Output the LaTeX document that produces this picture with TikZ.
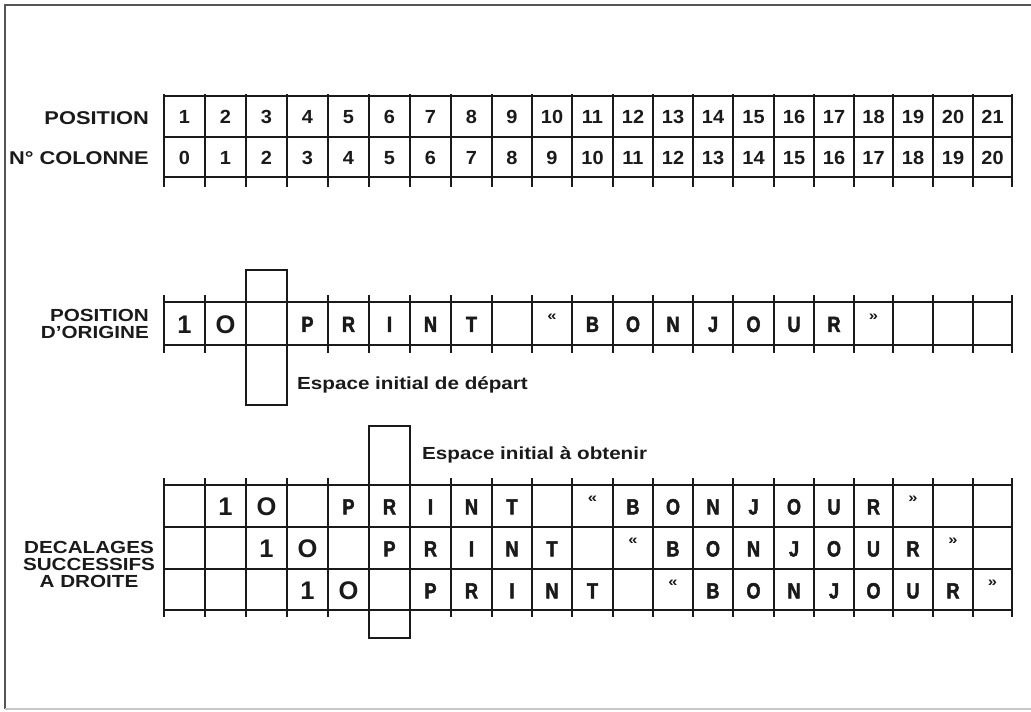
\documentclass[tikz,border=0pt]{standalone}
\usepackage{fontspec}
\setmainfont{Liberation Sans}
\newfontfamily\labfont[FakeStretch=1.18]{Liberation Sans}
\newfontfamily\numfont[FakeStretch=1.05]{Liberation Sans}
\newfontfamily\condfont[FakeStretch=0.82,FakeBold=2.2]{Liberation Sans}
\definecolor{ink}{HTML}{1A1A1A}
\definecolor{framec}{HTML}{555555}
\def\bounds{164,205,246,287,328,369,410,451,492,532,572,613,653,693,733,774,814,854,893,933,973,1012}
\def\centers{184.5,225.5,266.5,307.5,348.5,389.5,430.5,471.5,512,552,592.5,633,673,713,753.5,794,834,873.5,913,953,992.5}
\begin{document}
\begin{tikzpicture}[x=1pt,y=-1pt,
  grid/.style={draw=ink,line width=1.8pt},
  frame/.style={draw=framec,line width=2pt},
  lab/.style={font=\labfont\bfseries\fontsize{17.5}{17}\selectfont,text=ink,inner sep=0pt},
  biglab/.style={font=\labfont\bfseries\fontsize{18.5}{18}\selectfont,text=ink,inner sep=0pt},
  tnum/.style={font=\numfont\bfseries\fontsize{19}{20}\selectfont,text=ink,inner sep=0pt,text height=13.6pt,text depth=0pt},
  dig/.style={font=\bfseries\fontsize{25.5}{28}\selectfont,text=ink,inner sep=0pt,text height=18.3pt,text depth=0pt},
  chr/.style={font=\condfont\bfseries\fontsize{22}{24}\selectfont,text=ink,inner sep=0pt,text height=15.8pt,text depth=0pt},
  quo/.style={font=\labfont\bfseries\fontsize{14}{15}\selectfont,text=ink,inner sep=0pt,yshift=7pt},
]
\useasboundingbox (0,0) rectangle (1031,712);
\fill[white] (0,0) rectangle (1031,712);
% frame
\draw[frame] (1045,5) -- (5,5) -- (5,709);
\draw[draw=gray!45,line width=1.5pt] (5,709) -- (1045,709);

% coordinates
\foreach \x [count=\i] in \centers { \coordinate (c\i) at (\x,0); }
\coordinate (r1) at (0,117);
\coordinate (r2) at (0,157.5);
\coordinate (r3) at (0,324);
\coordinate (r4) at (0,506.5);
\coordinate (r5) at (0,548.5);
\coordinate (r6) at (0,590.5);

% table 1
\foreach \y in {96,137,177} { \draw[grid] (164,\y) -- (1012,\y); }
\foreach \x in \bounds { \draw[grid] (\x,94) -- (\x,187); }
\foreach \i in {1,...,21} {
  \pgfmathtruncatemacro\j{\i-1}
  \node[tnum] (pos\i) at (c\i |- r1) {\i};
  \node[tnum] (col\i) at (c\i |- r2) {\j};
}
\node[biglab,anchor=east] (lpos) at (149,118) {POSITION};
\node[biglab,anchor=east] (lcol) at (149,158) {N° COLONNE};

% table 2
\foreach \y in {302,345} { \draw[grid] (164,\y) -- (1012,\y); }
\foreach \x in \bounds { \draw[grid] (\x,295) -- (\x,353); }
\draw[grid] (246,270) rectangle (287,405);
\node[lab,align=right,anchor=east] (lorig) at (149,324) {POSITION\\D’ORIGINE};
\node[lab,anchor=base west] (ldep) at (297,389) {Espace initial de départ};

% table 3
\foreach \y in {485,527,569,610} { \draw[grid] (164,\y) -- (1012,\y); }
\foreach \x in \bounds { \draw[grid] (\x,478) -- (\x,617); }
\draw[grid] (369,426) rectangle (410,638);
\node[lab,align=center] (ldec) at (89,564) {DECALAGES\\SUCCESSIFS\\A DROITE};
\node[lab,anchor=base west] (lobt) at (422,459) {Espace initial à obtenir};

% contents of tables 2 and 3
\foreach \r/\s in {r3/0,r4/1,r5/2,r6/3} {
  \foreach \n/\t in {1/1,2/O} {
    \pgfmathtruncatemacro\k{\n+\s}
    \node[dig] (\r-d\k) at (c\k |- \r) {\t};
  }
  \foreach \n/\t in {4/P,5/R,6/I,7/N,8/T,11/B,12/O,13/N,14/J,15/O,16/U,17/R} {
    \pgfmathtruncatemacro\k{\n+\s}
    \node[chr] (\r-l\k) at (c\k |- \r) {\t};
  }
  \foreach \n/\t in {10/«,18/»} {
    \pgfmathtruncatemacro\k{\n+\s}
    \node[quo] (\r-q\k) at (c\k |- \r) {\t};
  }
}
\end{tikzpicture}
\end{document}
